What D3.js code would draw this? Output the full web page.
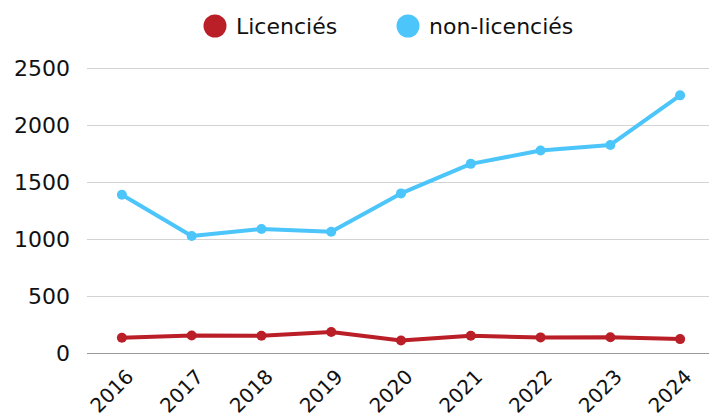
<!DOCTYPE html>
<html lang="fr">
<head>
<meta charset="UTF-8">
<title>Licenciés / non-licenciés</title>
<script src="https://d3js.org/d3.v7.min.js"></script>
<style>
  body { margin: 0; background: #fff; }
  text { font-family: "DejaVu Sans", sans-serif; fill: #111; }
</style>
</head>
<body>
<svg width="709" height="418"></svg>
<script>
// Data
const years = ['2016', '2017', '2018', '2019', '2020', '2021', '2022', '2023', '2024'];
const licencies = [134, 153, 152, 184, 110, 151, 137, 138, 122];
const nonLicencies = [1388, 1026, 1088, 1064, 1400, 1659, 1776, 1825, 2260];
const yTicks = [0, 500, 1000, 1500, 2000, 2500];
const seriesNames = ['Licenciés', 'non-licenciés'];
const seriesColors = ['#ba1e27', '#4cc5fa'];

const width = 709, height = 418;
const margin = { top: 68, right: 0, bottom: 65, left: 87 };

const svg = d3.select('svg');

const x = d3.scalePoint()
    .domain(years)
    .range([margin.left, 715])
    .padding(0.5);

const y = d3.scaleLinear()
    .domain([0, 2500])
    .range([height - margin.bottom, margin.top]);

// Grid
svg.append('g')
    .selectAll('line')
    .data(yTicks)
    .join('line')
    .attr('x1', margin.left)
    .attr('x2', width)
    .attr('y1', d => Math.round(y(d)) + 0.5)
    .attr('y2', d => Math.round(y(d)) + 0.5)
    .attr('stroke', d => d === 0 ? '#9a9a9a' : '#d3d3d3')
    .attr('stroke-width', 1.2);

// Y labels
svg.append('g')
    .selectAll('text')
    .data(yTicks)
    .join('text')
    .attr('x', 70)
    .attr('y', d => y(d))
    .attr('dy', '0.36em')
    .attr('text-anchor', 'end')
    .style('font-size', '22px')
    .text(d => d);

// X labels
svg.append('g')
    .selectAll('text')
    .data(years)
    .join('text')
    .attr('text-anchor', 'end')
    .attr('transform', d => `translate(${x(d) + 3},${y(0) + 15}) rotate(-45)`)
    .attr('dy', '0.7em')
    .style('font-size', '20px')
    .text(d => d);

// Lines
const line = d3.line()
    .x((d, i) => x(years[i]))
    .y(d => y(d));

[nonLicencies, licencies].forEach((vals, k) => {
    const color = k === 0 ? seriesColors[1] : seriesColors[0];
    svg.append('path')
        .datum(vals)
        .attr('fill', 'none')
        .attr('stroke', color)
        .attr('stroke-width', 4)
        .attr('stroke-linejoin', 'round')
        .attr('d', line);
    svg.append('g')
        .selectAll('circle')
        .data(vals)
        .join('circle')
        .attr('cx', (d, i) => x(years[i]))
        .attr('cy', d => y(d))
        .attr('r', 5)
        .attr('fill', color);
});

// Legend
const legendX = [215, 408];
const legend = svg.append('g')
    .selectAll('g')
    .data(seriesNames)
    .join('g')
    .attr('transform', (d, i) => `translate(${legendX[i]},26)`);
legend.append('circle')
    .attr('r', 11.5)
    .attr('fill', (d, i) => seriesColors[i]);
legend.append('text')
    .attr('x', 21)
    .attr('dy', '0.36em')
    .style('font-size', '22px')
    .text(d => d);
</script>
</body>
</html>
